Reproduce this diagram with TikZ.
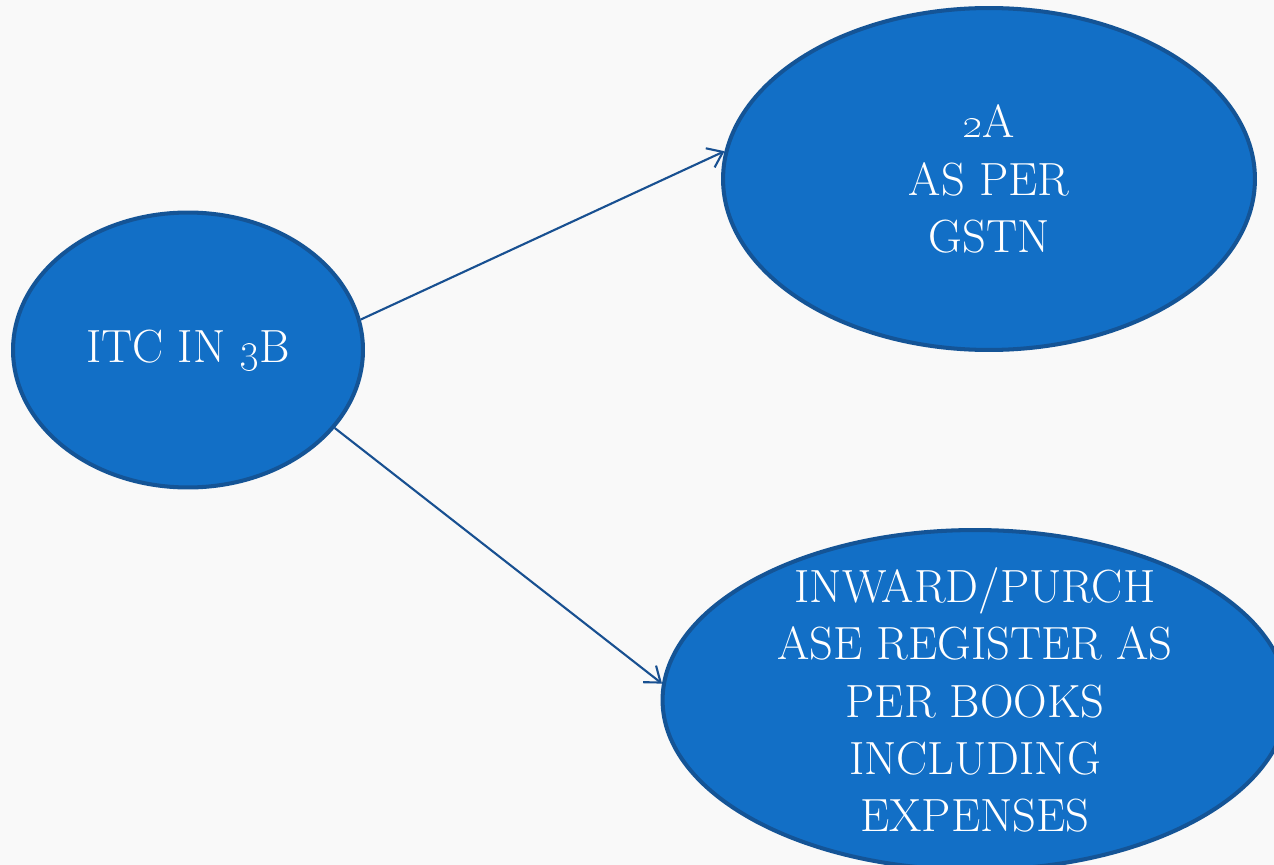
\documentclass[tikz,border=0pt]{standalone}
\usepackage{tikz}
\usetikzlibrary{
  shapes.geometric,
  arrows.meta
}
\definecolor{bubblefill}{RGB}{18,111,198}
\definecolor{bubbleline}{RGB}{20,84,150}
\definecolor{arrowline}{RGB}{24,80,145}
\definecolor{paper}{RGB}{249,249,249}
\tikzset{
  ->,
  >={Straight Barb[length=8pt,width=12pt]},
  bubble/.style={ellipse, draw=bubbleline, line width=2.3pt, fill=bubblefill,
    inner sep=0pt},
  bubbletext/.style={text=white, align=center,
    font=\fontsize{26.5}{32.5}\selectfont},
  link/.style={draw=arrowline, line width=1.2pt}
}

\begin{document}
\begin{tikzpicture}[x=0.02cm, y=-0.02cm]
    \fill[paper] (0,0) rectangle (1274,865);
    \useasboundingbox (0,0) rectangle (1274,865);
    \node[bubble, minimum width=7cm, minimum height=5.5cm,
      label={[bubbletext]center:ITC IN \oldstylenums{3}B}] (itc) at (188,350) {};
    \node[bubble, minimum width=10.64cm, minimum height=6.84cm,
      label={[bubbletext]center:\oldstylenums{2}A\\AS PER\\GSTN}] (gstn) at (989,179) {};
    \node[bubble, minimum width=12.5cm, minimum height=6.8cm,
      label={[bubbletext]center:INWARD/PURCH\\ASE REGISTER AS\\PER BOOKS\\INCLUDING\\EXPENSES}] (inward) at (975,700) {};
    \draw[link] (itc.10) -- (gstn.174);
    \draw[link] (itc.-28) -- (inward.177);
  \end{tikzpicture}
\end{document}
